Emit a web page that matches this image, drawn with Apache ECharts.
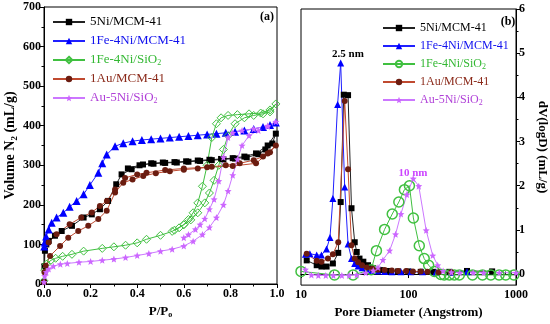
<!DOCTYPE html>
<html>
<head>
<meta charset="utf-8">
<script src="https://cdn.jsdelivr.net/npm/echarts@6/dist/echarts.min.js"></script>
<style>html,body{margin:0;padding:0;background:#fff;}#c{width:550px;height:324px;}</style>
</head>
<body>
<div id="c"></div>
<script>
// ---------- Panel (a): N2 isotherms (P/Po, Volume mL/g) ----------
const ni5McmP = [0.000,0.002,0.004,0.010,0.020,0.047,0.076,0.120,0.170,0.205,0.240,0.275,0.310,0.333,0.376,0.425,0.470,0.520,0.570,0.620,0.670,0.720,0.770,0.820,0.870,0.920,0.950,0.980,0.995,
                 0.960,0.910,0.860,0.810,0.760,0.710,0.660,0.610,0.560,0.510,0.460,0.410,0.360];
const ni5McmV = [5,45,84,100,109,122,134,147,168,176,189,210,252,277,290,302,304,306,307,309,311,313,315,317,320,328,340,355,380,
                 350,330,322,318,316,314,312,310,308,307,305,300,292];

const feNiMcmP = [0.001,0.003,0.009,0.020,0.033,0.054,0.083,0.110,0.140,0.170,0.197,0.233,0.250,0.269,0.305,0.340,0.380,0.420,0.460,0.500,0.540,0.580,0.620,0.660,0.700,0.740,0.780,0.820,0.860,0.900,0.940,0.970,0.995];
const feNiMcmV = [95,105,120,138,155,168,180,195,210,227,250,281,305,327,348,356,361,364,366,368,370,372,374,376,378,380,382,385,388,392,397,402,408];

const feNiSiP = [0.000,0.003,0.010,0.030,0.050,0.080,0.120,0.170,0.250,0.300,0.350,0.400,0.440,0.500,0.550,0.600,0.630,0.660,0.690,0.710,0.730,0.750,0.770,0.790,0.820,0.860,0.900,0.940,0.970,0.995,
                 0.970,0.930,0.880,0.830,0.790,0.760,0.740,0.720,0.700,0.680,0.660,0.640,0.620,0.600,0.580,0.560];
const feNiSiV = [8,35,50,60,65,70,75,83,90,94,98,104,113,123,133,150,162,180,205,230,262,300,340,375,405,420,426,430,435,455,
                 440,432,430,428,426,420,405,370,300,247,205,180,163,150,142,136];

const auMcmP = [0.000,0.002,0.008,0.026,0.069,0.104,0.147,0.190,0.233,0.269,0.305,0.340,0.380,0.426,0.480,0.540,0.600,0.660,0.720,0.780,0.840,0.900,0.940,0.970,0.995,
                0.960,0.910,0.810,0.700,0.600,0.520,0.440,0.400,0.348,0.305,0.270,0.240,0.205,0.160,0.110,0.054,0.020];
const auMcmV = [5,30,46,71,96,117,134,147,164,185,231,256,264,273,280,285,289,292,296,300,305,313,322,333,350,
                330,305,298,295,292,288,281,277,268,239,210,197,181,168,151,126,105];

const auNiSiP = [0.000,0.003,0.010,0.020,0.040,0.070,0.100,0.150,0.200,0.250,0.300,0.350,0.400,0.450,0.500,0.550,0.600,0.640,0.680,0.710,0.740,0.770,0.790,0.810,0.830,0.850,0.880,0.920,0.960,0.995,
                 0.960,0.900,0.850,0.810,0.790,0.770,0.750,0.730,0.710,0.690,0.670,0.650,0.620,0.600];
const auNiSiV = [5,20,30,38,45,50,52,55,57,60,63,67,72,77,83,88,96,108,125,143,168,200,235,275,315,350,375,388,398,410,
                 400,392,388,382,370,320,260,214,189,165,150,138,125,117];

// ---------- Panel (b): pore size distribution (D Angstrom, dV(logD)) ----------
const ni5McmD = [11.3,14.0,15.5,17.3,19.8,22.2,23.4,25.0,27.4,29.5,31.6,33.0,35.0,38.0,42.0,47.0,55.0,65.0,80.0,100,130,170,240,350,600];
const ni5McmDv = [0.31,0.20,0.17,0.17,0.24,0.48,1.63,4.06,4.05,1.49,0.72,0.50,0.35,0.28,0.20,0.13,0.09,0.07,0.06,0.06,0.05,0.05,0.05,0.07,0.06];

const feNiMcmD = [11.0,12.1,14.0,15.5,17.3,18.6,19.8,21.9,23.4,25.5,27.4,29.5,31.6,34.0,37.0,41.0,46.0,52.0,60.0,70.0,85.0,105,135,180,250,350];
const feNiMcmDv = [0.45,0.46,0.43,0.43,0.57,0.83,1.71,3.84,4.78,1.97,0.68,0.35,0.24,0.18,0.14,0.10,0.08,0.07,0.06,0.05,0.05,0.05,0.05,0.04,0.04,0.05];

const feNiSiD = [10.0,20.5,30.5,45.0,50.3,59.9,70.6,81.3,91.6,102,111,126,140,154,174,200,215,240,267,297,394,488,583,696,803,956];
const feNiSiDv = [0.06,-0.02,-0.02,0.10,0.53,1.01,1.36,1.63,1.91,2.00,1.27,0.64,0.35,0.20,0.06,-0.01,-0.02,-0.02,-0.02,-0.02,-0.02,-0.02,-0.02,-0.02,-0.02,-0.02];

const auMcmD = [11.3,14.0,15.5,17.8,19.8,22.2,25.5,27.4,29.5,31.6,34.0,37.0,41.0,46.0,52.0,60.0,70.0,80.0,95.0,110,130,150,190,250];
const auMcmDv = [0.46,0.30,0.28,0.35,0.45,0.72,3.92,2.37,0.65,0.35,0.27,0.20,0.15,0.12,0.10,0.09,0.08,0.07,0.07,0.06,0.06,0.05,0.04,0.04];

const auNiSiD = [11.0,12.5,14.5,17.0,20.0,24.0,28.0,33.0,40.0,47.0,52.0,57.8,66.7,75.8,85.0,96.6,110.7,124.6,146,168,187,210,250,300,400,500,700,1000];
const auNiSiDv = [0.10,-0.02,-0.03,-0.03,-0.03,-0.03,-0.03,-0.02,0.03,0.08,0.15,0.32,0.53,0.90,1.36,1.80,2.16,1.99,0.99,0.42,0.20,0.07,0.04,0.03,0.03,0.03,0.03,0.03];

// ---------- tick labels ----------
const aXTicks = [0, 0.2, 0.4, 0.6, 0.8, 1.0];
const bXMajor = [10, 100, 1000];
const bXMinor = [20,30,40,50,60,70,80,90,200,300,400,500,600,700,800,900];
const bYMajor = [0,1,2,3,4,5,6];
const bYMinor = [0.5,1.5,2.5,3.5,4.5,5.5];

const names = ['5Ni/MCM-41','1Fe-4Ni/MCM-41','1Fe-4Ni/SiO2','1Au/MCM-41','Au-5Ni/SiO2'];
const textColors = ['#000000','#1010ee','#33b833','#8b2a1a','#b040d8'];

function zip(a, b) { return a.map((v, i) => [v, b[i]]); }
const FONT = 'Liberation Serif';
const starPath = 'path://M0,-10L2.6,-3.6L9.5,-3.1L4.2,1.4L5.9,8.1L0,4.5L-5.9,8.1L-4.2,1.4L-9.5,-3.1L-2.6,-3.6Z';

const chart = echarts.init(document.getElementById('c'), null, {renderer: 'canvas'});

function sub(name) { return name.replace(' (b)', '').replace('SiO2', 'SiO{s|2}'); }
const legendRich = { s: { fontSize: 8, verticalAlign: 'bottom', lineHeight: 8, padding: [6, 0, 0, 0] } };

const axisLabelStyle = { color: '#000', fontFamily: FONT, fontWeight: 'bold', fontSize: 12 };
const axisLineStyle = { show: true, lineStyle: { color: '#000', width: 1 } };

function seriesA(i, P, V, opt) {
  return Object.assign({
    name: names[i], type: 'line', xAxisIndex: 0, yAxisIndex: 0,
    data: zip(P, V), showSymbol: true, clip: false, animation: false,
    lineStyle: { width: 1, color: textColors[i] }
  }, opt);
}
function seriesB(i, D, v, opt) {
  return Object.assign({
    name: names[i] + ' (b)', type: 'line', xAxisIndex: 1, yAxisIndex: 1,
    data: zip(D, v), showSymbol: true, clip: false, animation: false,
    lineStyle: { width: 1, color: textColors[i] }
  }, opt);
}

const styles = [
  { symbol: 'rect', symbolSize: 6, itemStyle: { color: '#000' }, lineStyle: { width: 1, color: '#222' } },
  { symbol: 'triangle', symbolSize: 8, itemStyle: { color: '#0000ff' }, lineStyle: { width: 1, color: '#2020ff' } },
  { symbol: 'diamond', symbolSize: 8, itemStyle: { color: 'rgba(255,255,255,0)', borderColor: '#40c040', borderWidth: 1 }, lineStyle: { width: 1, color: '#40c040' } },
  { symbol: 'circle', symbolSize: 6, itemStyle: { color: '#6b1c10' }, lineStyle: { width: 1, color: '#c04a30' } },
  { symbol: starPath, symbolSize: 7, itemStyle: { color: '#cc66ff' }, lineStyle: { width: 1, color: '#cc77ff' } }
];
const stylesB = styles.map((s) => Object.assign({}, s));
stylesB[2] = { symbol: 'circle', symbolSize: 10, itemStyle: { color: 'rgba(255,255,255,0)', borderColor: '#40c040', borderWidth: 1.5 }, lineStyle: { width: 1, color: '#40c040' } };
stylesB[0] = { symbol: 'rect', symbolSize: 6, itemStyle: { color: '#000' }, lineStyle: { width: 1, color: '#222' } };
stylesB[1] = { symbol: 'triangle', symbolSize: 7, itemStyle: { color: '#0000ff' }, lineStyle: { width: 1, color: '#2020ff' } };

const option = {
  backgroundColor: '#fff',
  animation: false,
  grid: [
    { left: 44, top: 7, width: 233, height: 278, show: true, borderColor: '#000', borderWidth: 1, backgroundColor: 'rgba(0,0,0,0)' },
    { left: 301, top: 9, width: 216, height: 283, show: true, borderColor: '#000', borderWidth: 1, backgroundColor: 'rgba(0,0,0,0)' }
  ],
  legend: [
    {
      orient: 'vertical', left: 47, top: 10, itemWidth: 32, itemHeight: 8, itemGap: 5,
      data: names.map((n, i) => ({ name: n, textStyle: { color: textColors[i] } })),
      formatter: sub,
      textStyle: { fontFamily: FONT, fontSize: 13, lineHeight: 14, rich: legendRich },
      selectedMode: false
    },
    {
      orient: 'vertical', left: 377, top: 16, itemWidth: 32, itemHeight: 8, itemGap: 4,
      data: names.map((n, i) => ({ name: n + ' (b)', textStyle: { color: textColors[i] } })),
      formatter: sub,
      textStyle: { fontFamily: FONT, fontSize: 12, lineHeight: 14, rich: legendRich },
      selectedMode: false
    }
  ],
  xAxis: [
    {
      gridIndex: 0, type: 'value', min: 0, max: 1, interval: 0.2,
      axisLine: axisLineStyle,
      axisTick: { show: true, length: 4, inside: false, lineStyle: { color: '#000' } },
      minorTick: { show: true, splitNumber: 2, length: 2.5, lineStyle: { color: '#000' } },
      splitLine: { show: false },
      axisLabel: Object.assign({ margin: 4, formatter: (v) => v.toFixed(1) }, axisLabelStyle),
      name: 'P/P{o|o}', nameLocation: 'middle', nameGap: 20,
      nameTextStyle: { color: '#000', fontFamily: FONT, fontWeight: 'bold', fontSize: 13,
        rich: { o: { fontSize: 8, fontWeight: 'bold', fontFamily: FONT, verticalAlign: 'bottom', padding: [7, 0, 0, 0] } } }
    },
    {
      gridIndex: 1, type: 'log', logBase: 10, min: 10, max: 1000,
      axisLine: axisLineStyle,
      axisTick: { show: true, length: 4, customValues: bXMajor, lineStyle: { color: '#000' } },
      splitLine: { show: false },
      axisLabel: Object.assign({ margin: 4, customValues: bXMajor, formatter: (v) => String(Math.round(v)) }, axisLabelStyle),
      name: 'Pore Diameter (Angstrom)', nameLocation: 'middle', nameGap: 19,
      nameTextStyle: { color: '#000', fontFamily: FONT, fontWeight: 'bold', fontSize: 13 }
    },
    {
      gridIndex: 1, type: 'log', logBase: 10, min: 10, max: 1000,
      axisLine: { show: false },
      axisTick: { show: true, length: 2.5, customValues: bXMinor, lineStyle: { color: '#000' } },
      axisLabel: { show: false },
      splitLine: { show: false }
    }
  ],
  yAxis: [
    {
      gridIndex: 0, type: 'value', min: 0, max: 700, interval: 100,
      axisLine: axisLineStyle,
      axisTick: { show: true, length: 4, lineStyle: { color: '#000' } },
      minorTick: { show: true, splitNumber: 2, length: 2.5, lineStyle: { color: '#000' } },
      splitLine: { show: false },
      axisLabel: Object.assign({ margin: 3 }, axisLabelStyle),
      name: 'Volume N{s|2} (mL/g)', nameLocation: 'middle', nameGap: 25,
      nameTextStyle: { color: '#000', fontFamily: FONT, fontWeight: 'bold', fontSize: 14,
        rich: { s: { fontSize: 9, fontWeight: 'bold', fontFamily: FONT, verticalAlign: 'bottom', padding: [8, 0, 0, 0] } } }
    },
    {
      gridIndex: 1, type: 'value', position: 'right', min: -0.25, max: 6,
      axisLine: axisLineStyle,
      axisTick: { show: true, length: 4, customValues: bYMajor, lineStyle: { color: '#000' } },
      splitLine: { show: false },
      axisLabel: Object.assign({ margin: 3, customValues: bYMajor }, axisLabelStyle),
      name: 'dV(logD) (mL/g)', nameLocation: 'middle', nameRotate: -90, nameGap: 20,
      nameTextStyle: { color: '#000', fontFamily: FONT, fontWeight: 'bold', fontSize: 13 }
    },
    {
      gridIndex: 1, type: 'value', position: 'right', min: -0.25, max: 6,
      axisLine: { show: false },
      axisTick: { show: true, length: 2.5, customValues: bYMinor, lineStyle: { color: '#000' } },
      axisLabel: { show: false },
      splitLine: { show: false }
    }
  ],
  graphic: [
    { type: 'text', x: 267, y: 17, style: { text: '(a)', align: 'center', verticalAlign: 'middle', font: 'bold 12px "Liberation Serif"', fill: '#000' } },
    { type: 'text', x: 508, y: 22, style: { text: '(b)', align: 'center', verticalAlign: 'middle', font: 'bold 12px "Liberation Serif"', fill: '#000' } },
    { type: 'text', x: 348, y: 54, style: { text: '2.5 nm', align: 'center', verticalAlign: 'middle', font: 'bold 11px "Liberation Serif"', fill: '#000' } },
    { type: 'text', x: 413, y: 173, style: { text: '10 nm', align: 'center', verticalAlign: 'middle', font: 'bold 11px "Liberation Serif"', fill: '#cc44ff' } }
  ],
  series: [
    seriesA(0, ni5McmP, ni5McmV, styles[0]),
    seriesA(1, feNiMcmP, feNiMcmV, styles[1]),
    seriesA(2, feNiSiP, feNiSiV, styles[2]),
    seriesA(3, auMcmP, auMcmV, styles[3]),
    seriesA(4, auNiSiP, auNiSiV, styles[4]),
    seriesB(0, ni5McmD, ni5McmDv, stylesB[0]),
    seriesB(1, feNiMcmD, feNiMcmDv, stylesB[1]),
    seriesB(2, feNiSiD, feNiSiDv, stylesB[2]),
    seriesB(3, auMcmD, auMcmDv, stylesB[3]),
    seriesB(4, auNiSiD, auNiSiDv, stylesB[4])
  ]
};
chart.setOption(option);
</script>
</body>
</html>
